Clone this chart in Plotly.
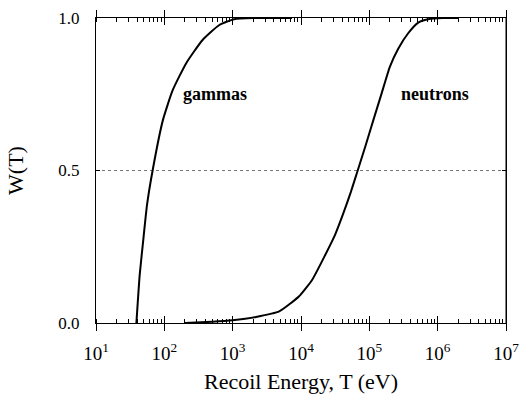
import math
import plotly.graph_objects as go

# Data
gamma_T = [39, 43.6, 48.9, 55.8, 68, 95.5, 133, 209, 363, 638, 1050, 2000, 7400]
gamma_W = [0.0, 0.158, 0.267, 0.387, 0.505, 0.666, 0.764, 0.852, 0.928, 0.977, 0.996, 1.0, 1.0]

neutron_T = [200, 500, 1000, 2200, 4800, 9300, 14600, 22700, 31600, 41700, 53700, 67600,
             87100, 114800, 151400, 199500, 266000, 370000, 520000, 725000, 1200000, 2000000]
neutron_W = [0.0, 0.004, 0.009, 0.02, 0.038, 0.087, 0.142, 0.224, 0.29, 0.36, 0.43, 0.50,
             0.578, 0.666, 0.753, 0.84, 0.90, 0.95, 0.985, 0.996, 1.0, 1.0]

x_tickvals = [1e1, 1e2, 1e3, 1e4, 1e5, 1e6, 1e7]
x_ticktext = ["10<sup>1</sup>", "10<sup>2</sup>", "10<sup>3</sup>", "10<sup>4</sup>",
              "10<sup>5</sup>", "10<sup>6</sup>", "10<sup>7</sup>"]
y_tickvals = [0.0, 0.5, 1.0]
y_ticktext = ["0.0", "0.5", "1.0"]

labels = ["gammas", "neutrons"]
label_T = [560, 9.1e5]
label_W = [0.75, 0.75]

FONT = "Liberation Serif"

fig = go.Figure()
line_style = dict(color="black", width=2, shape="spline", smoothing=0.5)
fig.add_trace(go.Scatter(x=gamma_T, y=gamma_W, mode="lines", line=line_style, showlegend=False))
fig.add_trace(go.Scatter(x=neutron_T, y=neutron_W, mode="lines", line=line_style, showlegend=False))
# invisible trace to activate the overlay axis (inner half of major ticks)
fig.add_trace(go.Scatter(x=[x_tickvals[0], x_tickvals[-1]], y=[0, 0], xaxis="x2", mode="lines",
                         line=dict(width=0), hoverinfo="skip", showlegend=False))

for t, tx, ty in zip(labels, label_T, label_W):
    fig.add_annotation(x=math.log10(tx), y=ty, text="<b>" + t + "</b>", showarrow=False,
                       font=dict(family=FONT, size=18, color="black"))

# plot frame (right edge)
fig.add_shape(type="line", xref="paper", yref="paper", x0=1, x1=1, y0=0, y1=1,
              line=dict(color="black", width=1), layer="above")

fig.update_layout(
    width=520, height=394,
    margin=dict(l=96, r=14, t=18, b=71),
    paper_bgcolor="white", plot_bgcolor="white",
    font=dict(family=FONT, color="black"),
    xaxis=dict(
        type="log", range=[1, 7], automargin=False,
        tickvals=x_tickvals, ticktext=x_ticktext,
        ticks="outside", ticklen=7, tickwidth=1, tickcolor="black",
        showline=True, linecolor="black", linewidth=1, mirror="ticks",
        showgrid=False, zeroline=False,
        tickfont=dict(family=FONT, size=19),
        ticklabelstandoff=6, ticklabeloverflow="allow",
        minor=dict(ticks="inside", ticklen=4, tickcolor="black", showgrid=False, dtick="D1"),
        title=dict(text="Recoil Energy, T (eV)", font=dict(family=FONT, size=22), standoff=14),
    ),
    xaxis2=dict(
        type="log", range=[1, 7], overlaying="x", side="bottom", automargin=False,
        tickvals=x_tickvals, showticklabels=False,
        ticks="inside", ticklen=7, tickcolor="black", mirror="ticks",
        showline=False, showgrid=False, zeroline=False,
    ),
    yaxis=dict(
        range=[0, 1], automargin=False, tickvals=y_tickvals, ticktext=y_ticktext,
        ticks="inside", ticklen=4, tickcolor="black",
        showline=True, linecolor="black", linewidth=1, mirror="ticks",
        showgrid=True, gridcolor="#777", griddash="dot", gridwidth=1,
        zeroline=False, tickfont=dict(family=FONT, size=17),
        ticklabelstandoff=12,
        title=dict(text="W(T)", font=dict(family=FONT, size=22), standoff=28),
    ),
)

fig.write_html("out.html")
